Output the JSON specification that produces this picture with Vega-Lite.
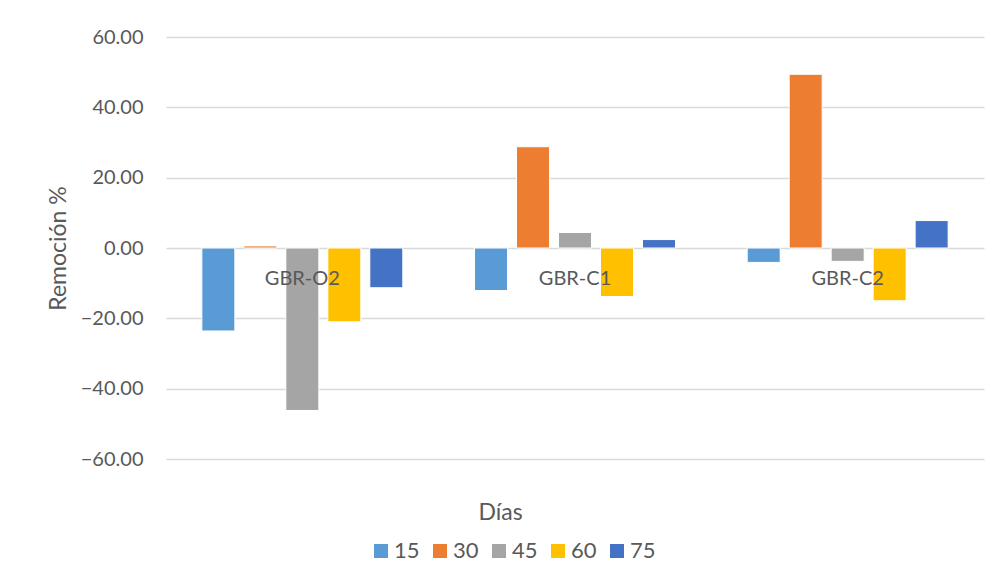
{
  "$schema": "https://vega.github.io/schema/vega-lite/v6.json",
  "width": 818,
  "height": 422,
  "autosize": {"type": "none"},
  "padding": {"left": 166, "top": 37, "right": 18, "bottom": 127},
  "background": "white",
  "config": {
    "font": "Lato",
    "view": {"stroke": null},
    "axis": {"labelColor": "#595959", "titleColor": "#595959", "labelFont": "Lato", "titleFont": "Lato", "titleFontWeight": "normal"},
    "legend": {"labelColor": "#595959", "labelFont": "Lato"}
  },
  "data": {
    "values": [
      {"grupo": "GBR-O2", "dia": "15", "remocion": -23.6},
      {"grupo": "GBR-O2", "dia": "30", "remocion": 0.6},
      {"grupo": "GBR-O2", "dia": "45", "remocion": -46.2},
      {"grupo": "GBR-O2", "dia": "60", "remocion": -21.0},
      {"grupo": "GBR-O2", "dia": "75", "remocion": -11.3},
      {"grupo": "GBR-C1", "dia": "15", "remocion": -12.1},
      {"grupo": "GBR-C1", "dia": "30", "remocion": 28.8},
      {"grupo": "GBR-C1", "dia": "45", "remocion": 4.4},
      {"grupo": "GBR-C1", "dia": "60", "remocion": -13.8},
      {"grupo": "GBR-C1", "dia": "75", "remocion": 2.4},
      {"grupo": "GBR-C2", "dia": "15", "remocion": -4.1},
      {"grupo": "GBR-C2", "dia": "30", "remocion": 49.4},
      {"grupo": "GBR-C2", "dia": "45", "remocion": -3.8},
      {"grupo": "GBR-C2", "dia": "60", "remocion": -15.0},
      {"grupo": "GBR-C2", "dia": "75", "remocion": 7.8}
    ]
  },
  "layer": [
    {
      "mark": {"type": "bar", "stroke": "white", "strokeWidth": 1},
      "encoding": {
        "x": {
          "field": "grupo",
          "type": "nominal",
          "sort": null,
          "scale": {"paddingInner": 0, "paddingOuter": 0},
          "axis": {
            "labels": false,
            "ticks": false,
            "domain": false,
            "title": "Días",
            "titleFontSize": 23,
            "titleX": 334,
            "titleY": 53,
            "titleAlign": "center",
            "titleBaseline": "middle"
          }
        },
        "xOffset": {
          "field": "dia",
          "type": "nominal",
          "scale": {"paddingInner": 0.214, "paddingOuter": 0.854}
        },
        "y": {
          "field": "remocion",
          "type": "quantitative",
          "scale": {"domain": [-60, 60], "nice": false, "zero": false},
          "axis": {
            "values": [-60, -40, -20, 0, 20, 40, 60],
            "format": ".2f",
            "title": "Remoción %",
            "titleFontSize": 23,
            "titlePadding": 10,
            "labelFontSize": 20,
            "labelPadding": 23,
            "ticks": false,
            "tickSize": 0,
            "domain": false,
            "gridColor": "#D9D9D9",
            "gridWidth": 1.3
          }
        },
        "color": {
          "field": "dia",
          "type": "nominal",
          "scale": {
            "domain": ["15", "30", "45", "60", "75"],
            "range": ["#5B9BD5", "#ED7D31", "#A5A5A5", "#FFC000", "#4472C4"]
          },
          "legend": {
            "title": null,
            "orient": "none",
            "direction": "horizontal",
            "legendX": 204,
            "legendY": 503,
            "symbolType": "square",
            "symbolSize": 196,
            "symbolStrokeWidth": 0,
            "labelFontSize": 22,
            "labelOffset": 2,
            "columnPadding": 9
          }
        }
      }
    },
    {
      "data": {"values": [{"grupo": "GBR-O2"}, {"grupo": "GBR-C1"}, {"grupo": "GBR-C2"}]},
      "mark": {"type": "text", "fontSize": 20, "color": "#595959", "baseline": "middle", "align": "center", "dy": 31, "font": "Lato"},
      "encoding": {
        "x": {"field": "grupo", "type": "nominal", "sort": null},
        "y": {"datum": 0},
        "text": {"field": "grupo"}
      }
    }
  ]
}
